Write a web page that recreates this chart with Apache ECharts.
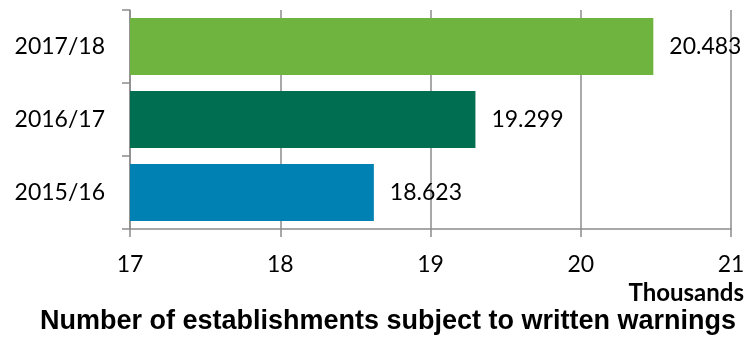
<!DOCTYPE html>
<html>
<head>
<meta charset="utf-8">
<script src="https://cdn.jsdelivr.net/npm/echarts@6/dist/echarts.min.js"></script>
<style>
  html, body { margin: 0; padding: 0; background: #fff; }
  #chart { width: 750px; height: 339px; }
</style>
</head>
<body>
<div id="chart"></div>
<script>
// Financial years, bottom to top
const years = ['2015/16', '2016/17', '2017/18'];
// Establishments subject to written warnings, in thousands
const establishments = [18.623, 19.299, 20.483];
const barColors = ['#0081b4', '#006e51', '#6eb43f'];
// Value axis range and step (thousands)
const axisMin = 17;
const axisMax = 21;
const axisStep = 1;

const axisGrey = '#8c8c8c';
const labelFont = 'Lato, "Open Sans", "Liberation Sans", sans-serif';

const chart = echarts.init(document.getElementById('chart'), null, { renderer: 'canvas' });

chart.setOption({
  animation: false,
  grid: { left: 130, right: 19, top: 10, bottom: 110, containLabel: false },
  xAxis: {
    type: 'value',
    min: axisMin,
    max: axisMax,
    interval: axisStep,
    axisLine: { show: true, lineStyle: { color: axisGrey, width: 1.5 } },
    axisTick: { show: true, length: 8, lineStyle: { color: axisGrey, width: 1.5 } },
    splitLine: { show: true, lineStyle: { color: axisGrey, width: 1.5 } },
    axisLabel: { color: '#000', fontSize: 23, fontFamily: labelFont, margin: 24 }
  },
  yAxis: {
    type: 'category',
    data: years,
    axisLine: { show: true, lineStyle: { color: axisGrey, width: 1.5 } },
    axisTick: { show: true, length: 8, alignWithLabel: false, lineStyle: { color: axisGrey, width: 1.5 } },
    axisLabel: { color: '#000', fontSize: 23, fontFamily: labelFont, margin: 25 }
  },
  series: [{
    type: 'bar',
    data: establishments.map((v, i) => ({ value: v, itemStyle: { color: barColors[i] } })),
    barCategoryGap: '22%',
    label: {
      show: true,
      position: 'right',
      distance: 16,
      color: '#000',
      fontSize: 23,
      fontFamily: labelFont,
      formatter: p => p.value.toFixed(3)
    }
  }],
  graphic: [
    {
      type: 'text',
      x: 744,
      y: 293,
      style: {
        text: 'Thousands',
        align: 'right',
        verticalAlign: 'middle',
        fill: '#000',
        font: 'bold 24px ' + labelFont
      }
    },
    {
      type: 'text',
      x: 388,
      y: 322,
      style: {
        text: 'Number of establishments subject to written warnings',
        align: 'center',
        verticalAlign: 'middle',
        fill: '#000',
        font: 'bold 27px "Liberation Sans", Arial, sans-serif'
      }
    }
  ]
});
</script>
</body>
</html>
